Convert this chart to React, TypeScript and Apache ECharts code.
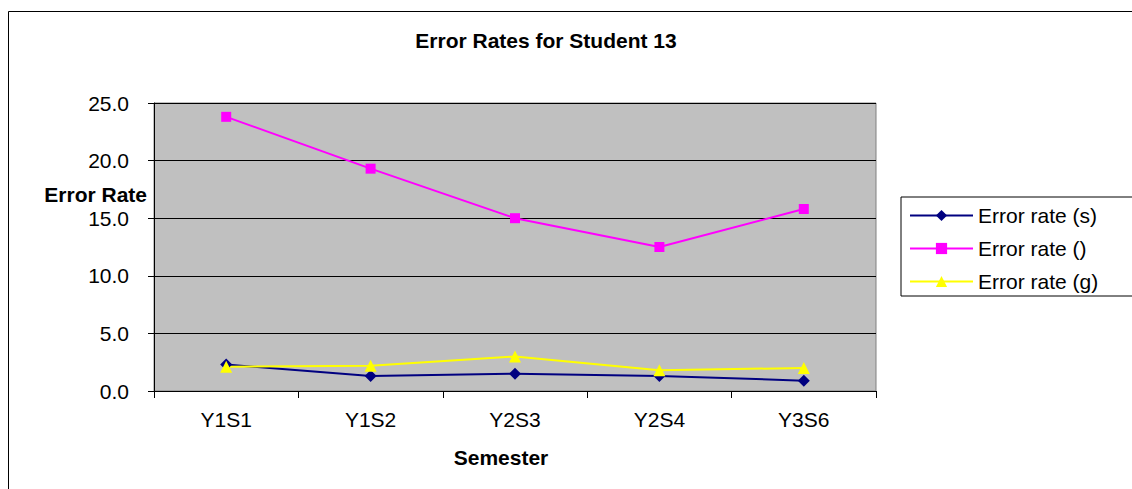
import React, { useEffect, useRef } from "react";
import * as echarts from "echarts";

const categories = ["Y1S1", "Y1S2", "Y2S3", "Y2S4", "Y3S6"];
const errorRateS = [2.3, 1.3, 1.5, 1.3, 0.9];
const errorRateEmpty = [23.8, 19.3, 15.0, 12.5, 15.8];
const errorRateG = [2.1, 2.2, 3.0, 1.8, 2.0];
const seriesNames = ["Error rate (s)", "Error rate ()", "Error rate (g)"];
const yTicks = { min: 0, max: 25, interval: 5 };

const FONT = "'Liberation Sans', Arial, sans-serif";
const FS = 21;

export default function App() {
  const ref = useRef<HTMLDivElement>(null);
  useEffect(() => {
    if (!ref.current) return;
    const chart = echarts.init(ref.current, null, { renderer: "svg" });
    chart.setOption({
      animation: false,
      backgroundColor: "#ffffff",
      textStyle: { fontFamily: FONT },
      title: {
        text: "Error Rates for Student 13",
        left: 541,
        top: 25,
        textAlign: "center",
        textStyle: { fontFamily: FONT, fontSize: FS, fontWeight: "bold", color: "#000" },
      },
      graphic: [
        {
          type: "rect",
          z: -10,
          silent: true,
          shape: { x: 8.5, y: 11.5, width: 1300, height: 700 },
          style: { fill: "none", stroke: "#000", lineWidth: 1 },
        },
        {
          type: "text",
          x: 147,
          y: 194,
          style: {
            text: "Error Rate",
            font: `bold ${FS}px ${FONT}`,
            fill: "#000",
            align: "right",
            verticalAlign: "middle",
          },
        },
      ],
      legend: {
        orient: "vertical",
        left: 901,
        top: 197,
        padding: [8, 40, 4, 8],
        itemWidth: 63,
        itemHeight: 14,
        itemGap: 12,
        backgroundColor: "#fff",
        borderColor: "#000",
        borderWidth: 1,
        borderRadius: 0,
        textStyle: { fontFamily: FONT, fontSize: FS, color: "#000" },
        data: seriesNames,
      },
      grid: {
        left: 154,
        top: 103,
        width: 722,
        height: 288,
        show: true,
        backgroundColor: "#C0C0C0",
        borderColor: "#808080",
        borderWidth: 1,
      },
      xAxis: {
        type: "category",
        data: categories,
        boundaryGap: true,
        name: "Semester",
        nameLocation: "middle",
        nameGap: 56,
        nameTextStyle: {
          fontFamily: FONT,
          fontSize: FS,
          fontWeight: "bold",
          color: "#000",
          padding: [0, 28, 0, 0],
        },
        axisLine: { show: true, lineStyle: { color: "#000", width: 1 } },
        axisTick: { show: true, alignWithLabel: false, length: 7, lineStyle: { color: "#000" } },
        axisLabel: { fontFamily: FONT, fontSize: FS, color: "#000", margin: 18 },
        splitLine: { show: false },
      },
      yAxis: {
        type: "value",
        min: yTicks.min,
        max: yTicks.max,
        interval: yTicks.interval,
        axisLine: { show: true, lineStyle: { color: "#000", width: 1 } },
        axisTick: { show: true, length: 6, lineStyle: { color: "#000" } },
        axisLabel: {
          fontFamily: FONT,
          fontSize: FS,
          color: "#000",
          margin: 25,
          formatter: (v: number) => v.toFixed(1),
        },
        splitLine: { show: true, lineStyle: { color: "#000", width: 1 } },
      },
      series: [
        {
          name: seriesNames[0],
          type: "line",
          data: errorRateS,
          symbol: "diamond",
          symbolSize: 12,
          color: "#000080",
          lineStyle: { color: "#000080", width: 2 },
          itemStyle: { color: "#000080" },
        },
        {
          name: seriesNames[1],
          type: "line",
          data: errorRateEmpty,
          symbol: "rect",
          symbolSize: 10,
          color: "#FF00FF",
          lineStyle: { color: "#FF00FF", width: 2 },
          itemStyle: { color: "#FF00FF" },
        },
        {
          name: seriesNames[2],
          type: "line",
          data: errorRateG,
          symbol: "triangle",
          symbolSize: 12,
          color: "#FFFF00",
          lineStyle: { color: "#FFFF00", width: 2 },
          itemStyle: { color: "#FFFF00" },
        },
      ],
    });
    return () => chart.dispose();
  }, []);
  return (
    <div
      ref={ref}
      style={{ position: "fixed", left: 0, top: 0, width: 1132, height: 489 }}
    />
  );
}
